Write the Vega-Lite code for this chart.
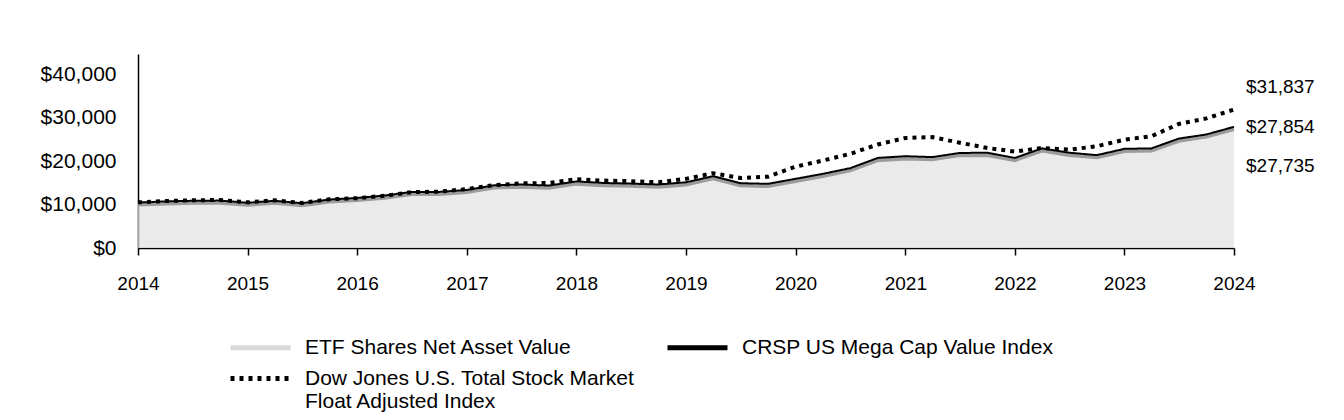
{
  "$schema": "https://vega.github.io/schema/vega-lite/v6.json",
  "width": 1096,
  "height": 194,
  "autosize": {"type": "none"},
  "padding": {"left": 138, "top": 54, "right": 110, "bottom": 172},
  "background": "white",
  "config": {
    "font": "Liberation Sans",
    "view": {"stroke": null},
    "axis": {"labelFont": "Liberation Sans", "labelFontSize": 19, "labelColor": "black", "domainColor": "black", "tickColor": "black", "grid": false, "title": null}
  },
  "datasets": {
    "series": [
      {"date": "2014-01-01", "series": "CRSP US Mega Cap Value Index", "value": 10460},
      {"date": "2014-04-01", "series": "CRSP US Mega Cap Value Index", "value": 10700},
      {"date": "2014-07-01", "series": "CRSP US Mega Cap Value Index", "value": 10850},
      {"date": "2014-10-01", "series": "CRSP US Mega Cap Value Index", "value": 10900},
      {"date": "2015-01-01", "series": "CRSP US Mega Cap Value Index", "value": 10400},
      {"date": "2015-04-01", "series": "CRSP US Mega Cap Value Index", "value": 10850},
      {"date": "2015-07-01", "series": "CRSP US Mega Cap Value Index", "value": 10300},
      {"date": "2015-10-01", "series": "CRSP US Mega Cap Value Index", "value": 11150},
      {"date": "2016-01-01", "series": "CRSP US Mega Cap Value Index", "value": 11500},
      {"date": "2016-04-01", "series": "CRSP US Mega Cap Value Index", "value": 12050},
      {"date": "2016-07-01", "series": "CRSP US Mega Cap Value Index", "value": 12900},
      {"date": "2016-10-01", "series": "CRSP US Mega Cap Value Index", "value": 12900},
      {"date": "2017-01-01", "series": "CRSP US Mega Cap Value Index", "value": 13350},
      {"date": "2017-04-01", "series": "CRSP US Mega Cap Value Index", "value": 14400},
      {"date": "2017-07-01", "series": "CRSP US Mega Cap Value Index", "value": 14600},
      {"date": "2017-10-01", "series": "CRSP US Mega Cap Value Index", "value": 14350},
      {"date": "2018-01-01", "series": "CRSP US Mega Cap Value Index", "value": 15300},
      {"date": "2018-04-01", "series": "CRSP US Mega Cap Value Index", "value": 14950},
      {"date": "2018-07-01", "series": "CRSP US Mega Cap Value Index", "value": 14800},
      {"date": "2018-10-01", "series": "CRSP US Mega Cap Value Index", "value": 14600},
      {"date": "2019-01-01", "series": "CRSP US Mega Cap Value Index", "value": 15100},
      {"date": "2019-04-01", "series": "CRSP US Mega Cap Value Index", "value": 16500},
      {"date": "2019-07-01", "series": "CRSP US Mega Cap Value Index", "value": 14900},
      {"date": "2019-10-01", "series": "CRSP US Mega Cap Value Index", "value": 14750},
      {"date": "2020-01-01", "series": "CRSP US Mega Cap Value Index", "value": 15900},
      {"date": "2020-04-01", "series": "CRSP US Mega Cap Value Index", "value": 17050},
      {"date": "2020-07-01", "series": "CRSP US Mega Cap Value Index", "value": 18350},
      {"date": "2020-10-01", "series": "CRSP US Mega Cap Value Index", "value": 20700},
      {"date": "2021-01-01", "series": "CRSP US Mega Cap Value Index", "value": 21100},
      {"date": "2021-04-01", "series": "CRSP US Mega Cap Value Index", "value": 20900},
      {"date": "2021-07-01", "series": "CRSP US Mega Cap Value Index", "value": 21850},
      {"date": "2021-10-01", "series": "CRSP US Mega Cap Value Index", "value": 21900},
      {"date": "2022-01-01", "series": "CRSP US Mega Cap Value Index", "value": 20700},
      {"date": "2022-04-01", "series": "CRSP US Mega Cap Value Index", "value": 22900},
      {"date": "2022-07-01", "series": "CRSP US Mega Cap Value Index", "value": 21900},
      {"date": "2022-10-01", "series": "CRSP US Mega Cap Value Index", "value": 21350},
      {"date": "2023-01-01", "series": "CRSP US Mega Cap Value Index", "value": 22800},
      {"date": "2023-04-01", "series": "CRSP US Mega Cap Value Index", "value": 22900},
      {"date": "2023-07-01", "series": "CRSP US Mega Cap Value Index", "value": 25150},
      {"date": "2023-10-01", "series": "CRSP US Mega Cap Value Index", "value": 26100},
      {"date": "2024-01-01", "series": "CRSP US Mega Cap Value Index", "value": 27854},

      {"date": "2014-01-01", "series": "ETF Shares Net Asset Value", "value": 9950},
      {"date": "2014-04-01", "series": "ETF Shares Net Asset Value", "value": 10180},
      {"date": "2014-07-01", "series": "ETF Shares Net Asset Value", "value": 10320},
      {"date": "2014-10-01", "series": "ETF Shares Net Asset Value", "value": 10370},
      {"date": "2015-01-01", "series": "ETF Shares Net Asset Value", "value": 9880},
      {"date": "2015-04-01", "series": "ETF Shares Net Asset Value", "value": 10320},
      {"date": "2015-07-01", "series": "ETF Shares Net Asset Value", "value": 9780},
      {"date": "2015-10-01", "series": "ETF Shares Net Asset Value", "value": 10620},
      {"date": "2016-01-01", "series": "ETF Shares Net Asset Value", "value": 10960},
      {"date": "2016-04-01", "series": "ETF Shares Net Asset Value", "value": 11510},
      {"date": "2016-07-01", "series": "ETF Shares Net Asset Value", "value": 12350},
      {"date": "2016-10-01", "series": "ETF Shares Net Asset Value", "value": 12350},
      {"date": "2017-01-01", "series": "ETF Shares Net Asset Value", "value": 12790},
      {"date": "2017-04-01", "series": "ETF Shares Net Asset Value", "value": 13840},
      {"date": "2017-07-01", "series": "ETF Shares Net Asset Value", "value": 14040},
      {"date": "2017-10-01", "series": "ETF Shares Net Asset Value", "value": 13790},
      {"date": "2018-01-01", "series": "ETF Shares Net Asset Value", "value": 14740},
      {"date": "2018-04-01", "series": "ETF Shares Net Asset Value", "value": 14390},
      {"date": "2018-07-01", "series": "ETF Shares Net Asset Value", "value": 14240},
      {"date": "2018-10-01", "series": "ETF Shares Net Asset Value", "value": 14040},
      {"date": "2019-01-01", "series": "ETF Shares Net Asset Value", "value": 14540},
      {"date": "2019-04-01", "series": "ETF Shares Net Asset Value", "value": 15940},
      {"date": "2019-07-01", "series": "ETF Shares Net Asset Value", "value": 14340},
      {"date": "2019-10-01", "series": "ETF Shares Net Asset Value", "value": 14190},
      {"date": "2020-01-01", "series": "ETF Shares Net Asset Value", "value": 15340},
      {"date": "2020-04-01", "series": "ETF Shares Net Asset Value", "value": 16490},
      {"date": "2020-07-01", "series": "ETF Shares Net Asset Value", "value": 17790},
      {"date": "2020-10-01", "series": "ETF Shares Net Asset Value", "value": 20140},
      {"date": "2021-01-01", "series": "ETF Shares Net Asset Value", "value": 20540},
      {"date": "2021-04-01", "series": "ETF Shares Net Asset Value", "value": 20340},
      {"date": "2021-07-01", "series": "ETF Shares Net Asset Value", "value": 21290},
      {"date": "2021-10-01", "series": "ETF Shares Net Asset Value", "value": 21340},
      {"date": "2022-01-01", "series": "ETF Shares Net Asset Value", "value": 20140},
      {"date": "2022-04-01", "series": "ETF Shares Net Asset Value", "value": 22340},
      {"date": "2022-07-01", "series": "ETF Shares Net Asset Value", "value": 21340},
      {"date": "2022-10-01", "series": "ETF Shares Net Asset Value", "value": 20790},
      {"date": "2023-01-01", "series": "ETF Shares Net Asset Value", "value": 22240},
      {"date": "2023-04-01", "series": "ETF Shares Net Asset Value", "value": 22340},
      {"date": "2023-07-01", "series": "ETF Shares Net Asset Value", "value": 24590},
      {"date": "2023-10-01", "series": "ETF Shares Net Asset Value", "value": 25540},
      {"date": "2024-01-01", "series": "ETF Shares Net Asset Value", "value": 27300},

      {"date": "2014-01-01", "series": "Dow Jones U.S. Total Stock Market Float Adjusted Index", "value": 10500},
      {"date": "2014-04-01", "series": "Dow Jones U.S. Total Stock Market Float Adjusted Index", "value": 10800},
      {"date": "2014-07-01", "series": "Dow Jones U.S. Total Stock Market Float Adjusted Index", "value": 10950},
      {"date": "2014-10-01", "series": "Dow Jones U.S. Total Stock Market Float Adjusted Index", "value": 11050},
      {"date": "2015-01-01", "series": "Dow Jones U.S. Total Stock Market Float Adjusted Index", "value": 10500},
      {"date": "2015-04-01", "series": "Dow Jones U.S. Total Stock Market Float Adjusted Index", "value": 10950},
      {"date": "2015-07-01", "series": "Dow Jones U.S. Total Stock Market Float Adjusted Index", "value": 10350},
      {"date": "2015-10-01", "series": "Dow Jones U.S. Total Stock Market Float Adjusted Index", "value": 11200},
      {"date": "2016-01-01", "series": "Dow Jones U.S. Total Stock Market Float Adjusted Index", "value": 11450},
      {"date": "2016-04-01", "series": "Dow Jones U.S. Total Stock Market Float Adjusted Index", "value": 12000},
      {"date": "2016-07-01", "series": "Dow Jones U.S. Total Stock Market Float Adjusted Index", "value": 12850},
      {"date": "2016-10-01", "series": "Dow Jones U.S. Total Stock Market Float Adjusted Index", "value": 12950},
      {"date": "2017-01-01", "series": "Dow Jones U.S. Total Stock Market Float Adjusted Index", "value": 13550},
      {"date": "2017-04-01", "series": "Dow Jones U.S. Total Stock Market Float Adjusted Index", "value": 14450},
      {"date": "2017-07-01", "series": "Dow Jones U.S. Total Stock Market Float Adjusted Index", "value": 14850},
      {"date": "2017-10-01", "series": "Dow Jones U.S. Total Stock Market Float Adjusted Index", "value": 14950},
      {"date": "2018-01-01", "series": "Dow Jones U.S. Total Stock Market Float Adjusted Index", "value": 15800},
      {"date": "2018-04-01", "series": "Dow Jones U.S. Total Stock Market Float Adjusted Index", "value": 15500},
      {"date": "2018-07-01", "series": "Dow Jones U.S. Total Stock Market Float Adjusted Index", "value": 15350},
      {"date": "2018-10-01", "series": "Dow Jones U.S. Total Stock Market Float Adjusted Index", "value": 15100},
      {"date": "2019-01-01", "series": "Dow Jones U.S. Total Stock Market Float Adjusted Index", "value": 15900},
      {"date": "2019-04-01", "series": "Dow Jones U.S. Total Stock Market Float Adjusted Index", "value": 17200},
      {"date": "2019-07-01", "series": "Dow Jones U.S. Total Stock Market Float Adjusted Index", "value": 16100},
      {"date": "2019-10-01", "series": "Dow Jones U.S. Total Stock Market Float Adjusted Index", "value": 16400},
      {"date": "2020-01-01", "series": "Dow Jones U.S. Total Stock Market Float Adjusted Index", "value": 18700},
      {"date": "2020-04-01", "series": "Dow Jones U.S. Total Stock Market Float Adjusted Index", "value": 20100},
      {"date": "2020-07-01", "series": "Dow Jones U.S. Total Stock Market Float Adjusted Index", "value": 21650},
      {"date": "2020-10-01", "series": "Dow Jones U.S. Total Stock Market Float Adjusted Index", "value": 23800},
      {"date": "2021-01-01", "series": "Dow Jones U.S. Total Stock Market Float Adjusted Index", "value": 25300},
      {"date": "2021-04-01", "series": "Dow Jones U.S. Total Stock Market Float Adjusted Index", "value": 25500},
      {"date": "2021-07-01", "series": "Dow Jones U.S. Total Stock Market Float Adjusted Index", "value": 24200},
      {"date": "2021-10-01", "series": "Dow Jones U.S. Total Stock Market Float Adjusted Index", "value": 23000},
      {"date": "2022-01-01", "series": "Dow Jones U.S. Total Stock Market Float Adjusted Index", "value": 22150},
      {"date": "2022-04-01", "series": "Dow Jones U.S. Total Stock Market Float Adjusted Index", "value": 23000},
      {"date": "2022-07-01", "series": "Dow Jones U.S. Total Stock Market Float Adjusted Index", "value": 22600},
      {"date": "2022-10-01", "series": "Dow Jones U.S. Total Stock Market Float Adjusted Index", "value": 23400},
      {"date": "2023-01-01", "series": "Dow Jones U.S. Total Stock Market Float Adjusted Index", "value": 24900},
      {"date": "2023-04-01", "series": "Dow Jones U.S. Total Stock Market Float Adjusted Index", "value": 25700},
      {"date": "2023-07-01", "series": "Dow Jones U.S. Total Stock Market Float Adjusted Index", "value": 28500},
      {"date": "2023-10-01", "series": "Dow Jones U.S. Total Stock Market Float Adjusted Index", "value": 29800},
      {"date": "2024-01-01", "series": "Dow Jones U.S. Total Stock Market Float Adjusted Index", "value": 31837}
    ],
    "ends": [
      {"date": "2024-01-01", "series": "Dow Jones U.S. Total Stock Market Float Adjusted Index", "value": 31837},
      {"date": "2024-01-01", "series": "CRSP US Mega Cap Value Index", "value": 27854},
      {"date": "2024-01-01", "series": "ETF Shares Net Asset Value", "value": 27735}
    ]
  },
  "encoding": {
    "x": {
      "field": "date", "type": "temporal",
      "scale": {"type": "utc", "domain": [1388534400000, 1704067200000]},
      "axis": {"format": "%Y", "formatType": "utc", "tickCount": 10, "tickSize": 7, "labelPadding": 19, "domainWidth": 1.5, "tickWidth": 1.5, "labelBaseline": "top", "labelFlush": false, "labelOverlap": false}
    },
    "y": {
      "field": "value", "type": "quantitative",
      "scale": {"domain": [0, 44600], "nice": false},
      "axis": {"values": [0, 10000, 20000, 30000, 40000], "format": "$,.0f", "ticks": false, "labelPadding": 22, "labelFontSize": 21, "domainWidth": 1.5}
    }
  },
  "layer": [
    {
      "data": {"name": "series"},
      "transform": [{"filter": "datum.series === 'ETF Shares Net Asset Value'"}],
      "mark": {"type": "area", "color": "#e1e1e1", "line": {"color": "#9c9c9c", "strokeWidth": 3.5}}
    },
    {
      "data": {"name": "series"},
      "transform": [{"filter": "datum.series === 'CRSP US Mega Cap Value Index'"}],
      "mark": {"type": "line", "strokeWidth": 2},
      "encoding": {
        "color": {"field": "series", "type": "nominal"},
        "strokeDash": {"field": "series", "type": "nominal"}
      }
    },
    {
      "data": {"name": "series"},
      "transform": [{"filter": "datum.series === 'Dow Jones U.S. Total Stock Market Float Adjusted Index'"}],
      "mark": {"type": "line", "strokeWidth": 4},
      "encoding": {
        "color": {
          "field": "series", "type": "nominal",
          "scale": {
            "domain": ["ETF Shares Net Asset Value", "CRSP US Mega Cap Value Index", "Dow Jones U.S. Total Stock Market Float Adjusted Index"],
            "range": ["#d9d9d9", "#000000", "#000000"]
          },
          "legend": {
            "title": null,
            "orient": "none",
            "legendX": 90,
            "legendY": 281,
            "columns": 2,
            "direction": "horizontal",
            "symbolType": "M-1,0L5,0",
            "symbolSize": 400,
            "symbolStrokeWidth": 5,
            "labelOffset": 52,
            "labelFontSize": 21,
            "labelFont": "Liberation Sans",
            "labelColor": "black",
            "labelLimit": 500,
            "columnPadding": 22,
            "rowPadding": 8,
            "labelExpr": "datum.label === 'Dow Jones U.S. Total Stock Market Float Adjusted Index' ? ['Dow Jones U.S. Total Stock Market', 'Float Adjusted Index'] : datum.label"
          }
        },
        "strokeDash": {
          "field": "series", "type": "nominal",
          "scale": {
            "domain": ["ETF Shares Net Asset Value", "CRSP US Mega Cap Value Index", "Dow Jones U.S. Total Stock Market Float Adjusted Index"],
            "range": [[1, 0], [1, 0], [4, 5]]
          }
        }
      }
    },
    {
      "data": {"name": "ends"},
      "transform": [{"filter": "datum.series === 'Dow Jones U.S. Total Stock Market Float Adjusted Index'"}],
      "mark": {"type": "text", "align": "left", "baseline": "middle", "dx": 12, "dy": -22.5, "fontSize": 19, "font": "Liberation Sans", "color": "black"},
      "encoding": {"text": {"field": "value", "type": "quantitative", "format": "$,.0f"}}
    },
    {
      "data": {"name": "ends"},
      "transform": [{"filter": "datum.series === 'CRSP US Mega Cap Value Index'"}],
      "mark": {"type": "text", "align": "left", "baseline": "middle", "dx": 12, "dy": 0, "fontSize": 19, "font": "Liberation Sans", "color": "black"},
      "encoding": {"text": {"field": "value", "type": "quantitative", "format": "$,.0f"}}
    },
    {
      "data": {"name": "ends"},
      "transform": [{"filter": "datum.series === 'ETF Shares Net Asset Value'"}],
      "mark": {"type": "text", "align": "left", "baseline": "middle", "dx": 12, "dy": 38.7, "fontSize": 19, "font": "Liberation Sans", "color": "black"},
      "encoding": {"text": {"field": "value", "type": "quantitative", "format": "$,.0f"}}
    }
  ]
}
